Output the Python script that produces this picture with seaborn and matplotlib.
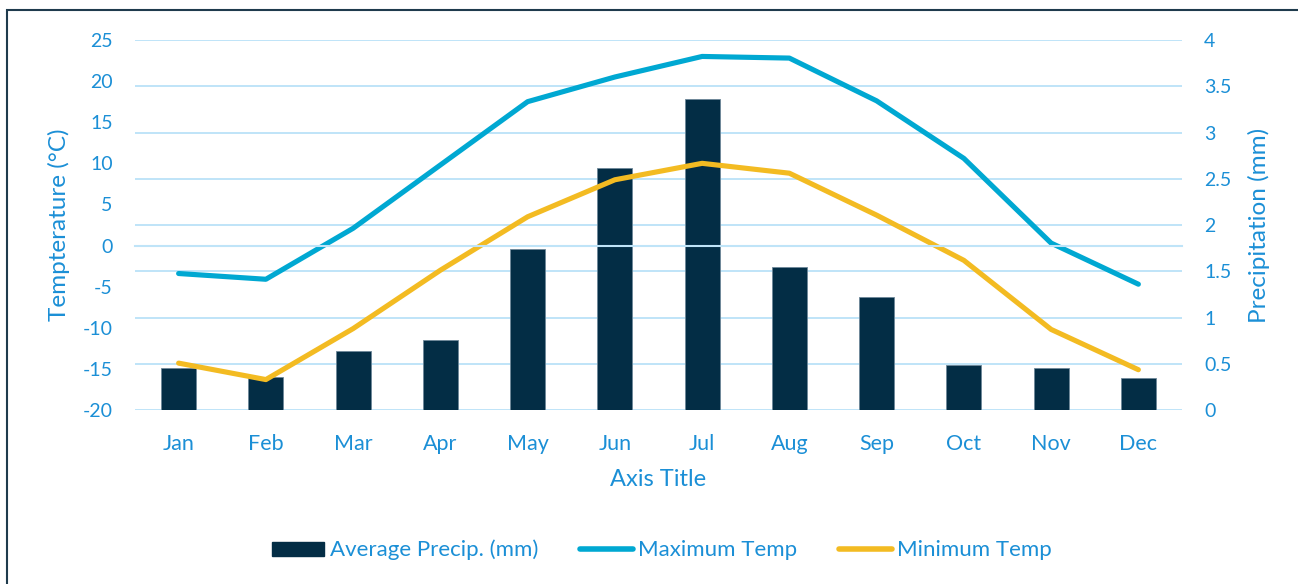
import matplotlib
matplotlib.use("Agg")
import matplotlib.pyplot as plt
import numpy as np
import seaborn as sns
import matplotlib.ticker as ticker
from matplotlib.patches import Patch, Rectangle
from matplotlib.lines import Line2D

# data
months = ["Jan", "Feb", "Mar", "Apr", "May", "Jun", "Jul", "Aug", "Sep", "Oct", "Nov", "Dec"]
precip = [0.45, 0.36, 0.64, 0.76, 1.74, 2.62, 3.36, 1.55, 1.22, 0.49, 0.45, 0.35]
max_temp = [-3.4, -4.1, 2.1, 9.8, 17.5, 20.5, 23.0, 22.8, 17.6, 10.6, 0.3, -4.7]
min_temp = [-14.3, -16.3, -10.1, -3.0, 3.5, 8.0, 10.0, 8.8, 3.7, -1.8, -10.2, -15.1]
temp_ticks = list(range(-20, 30, 5))
precip_ticks = [0, 0.5, 1, 1.5, 2, 2.5, 3, 3.5, 4]

sns.set_style("white")
plt.rcParams['font.family'] = ['Lato', 'DejaVu Sans']
plt.rcParams['axes.unicode_minus'] = False

TextColor = '#1b8fd6'
GridColor = '#bfe4f8'
BarColor = '#032d45'
MaxColor = '#00a8d2'
MinColor = '#f3bb22'

fig = plt.figure(figsize=(12.98, 5.84), dpi=100)
ax = fig.add_axes([135/1298, 1-410/584, 1047/1298, 370/584])
ax2 = ax.twinx()
ax.set_zorder(2)
ax.patch.set_visible(False)
ax2.set_zorder(1)

# bars on the precipitation axis
sns.barplot(x=months, y=precip, ax=ax2, color=BarColor, saturation=1, width=0.4,
            edgecolor='#6d8799', linewidth=0.6)

# lines on the temperature axis
pos = np.arange(len(months))
sns.lineplot(x=pos, y=max_temp, ax=ax, color=MaxColor, linewidth=3.7,
             solid_capstyle='round', solid_joinstyle='round')
sns.lineplot(x=pos, y=min_temp, ax=ax, color=MinColor, linewidth=3.7,
             solid_capstyle='round', solid_joinstyle='round')

ax.set_xlim(-0.5, 11.5)
ax.set_ylim(-20, 25)
ax.set_yticks(temp_ticks)
ax2.set_ylim(0, 4)
ax2.set_yticks(precip_ticks)
ax2.yaxis.set_major_formatter(ticker.FuncFormatter(lambda v, p: "%g" % v))

ax2.xaxis.set_visible(True)
ax2.set_xticks(pos, months)
ax.xaxis.set_minor_locator(ticker.FixedLocator(np.arange(-0.5, 12, 1)))

for s in ax.spines.values():
    s.set_visible(False)
for s in ax2.spines.values():
    s.set_visible(False)
ax.spines['bottom'].set_visible(True)
ax.spines['bottom'].set_position(('data', 0))
ax.spines['bottom'].set_color(GridColor)
ax.spines['bottom'].set_linewidth(1.5)

ax.grid(False)
ax2.grid(False)
ax2.yaxis.grid(True, color=GridColor, linewidth=1.4)
ax2.set_axisbelow(True)

ax.tick_params(axis='x', which='both', direction='out', length=5, width=1.2,
               color=GridColor, labelbottom=False)
ax.tick_params(axis='y', length=0, labelsize=14, labelcolor=TextColor, pad=16)
ax2.tick_params(axis='y', length=0, labelsize=14, labelcolor=TextColor, pad=16)
ax2.tick_params(axis='x', which='both', length=0, labelsize=15.5, labelcolor=TextColor, pad=17)

ax.set_xlabel("")
ax2.set_xlabel("Axis Title", fontsize=17, color=TextColor)
ax2.xaxis.set_label_coords(0.5, -0.188)
ax2.xaxis.label.set_va('center')
ax.set_ylabel("Tempterature (°C)", fontsize=17.5, color=TextColor)
ax.yaxis.set_label_coords(-0.073, 0.5)
ax.yaxis.label.set_va('center')
ax2.set_ylabel("Precipitation (mm)", fontsize=17.5, color=TextColor)
ax2.yaxis.set_label_coords(1.0735, 0.5)
ax2.yaxis.label.set_va('center')

handles = [Patch(facecolor=BarColor, edgecolor=BarColor),
           Line2D([0], [0], color=MaxColor, linewidth=4, solid_capstyle='round'),
           Line2D([0], [0], color=MinColor, linewidth=4, solid_capstyle='round')]
labels = ["Average Precip. (mm)", "Maximum Temp", "Minimum Temp"]
fig.legend(handles, labels, loc='center', bbox_to_anchor=(0.51, 0.058), ncol=3,
           frameon=False, fontsize=16, handlelength=2.35, handleheight=0.6,
           handletextpad=0.25, columnspacing=1.9, labelcolor=TextColor)

# chart area border, cut off on the right and bottom like the reference
fig.add_artist(Rectangle((7/1298, -0.2), 1.2, 1-10/584+0.2, transform=fig.transFigure,
                         fill=False, edgecolor='#1f3b4d', linewidth=1.5, clip_on=False))

plt.savefig("out.png", dpi=100)
